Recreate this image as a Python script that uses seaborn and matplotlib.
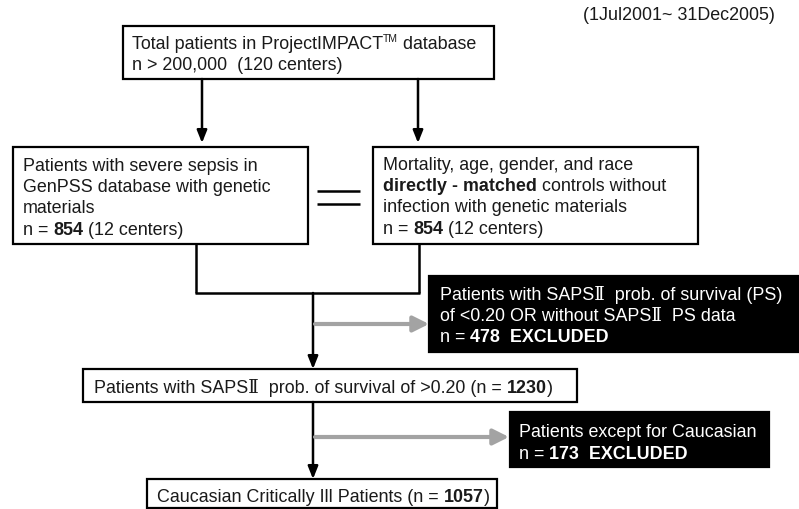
import matplotlib
matplotlib.use("Agg")
import matplotlib.pyplot as plt
import seaborn as sns
from matplotlib.patches import Rectangle
from matplotlib.font_manager import FontProperties

sns.set_theme(style="white")
plt.rcParams["font.family"] = ["Liberation Sans", "DejaVu Serif"]

# study counts
n_total = "200,000"
centers_total = 120
centers_genpss = 12
n_sepsis = 854
n_controls = 854
n_excluded_ps = 478
n_saps = 1230
n_excluded_race = 173
n_final = 1057
period = "(1Jul2001~ 31Dec2005)"

# text of each box, as runs of (text, bold)
top_lines = [
    [("Total patients in ProjectIMPACT", False), ("TM", "sup"), (" database", False)],
    [(f"n > {n_total}  ({centers_total} centers)", False)],
]
sepsis_lines = [
    [("Patients with severe sepsis in", False)],
    [("GenPSS database with genetic", False)],
    [("materials", False)],
    [("n = ", False), (str(n_sepsis), True), (f" ({centers_genpss} centers)", False)],
]
control_lines = [
    [("Mortality, age, gender, and race", False)],
    [("directly - matched", True), (" controls without", False)],
    [("infection with genetic materials", False)],
    [("n = ", False), (str(n_controls), True), (f" ({centers_genpss} centers)", False)],
]
excl_ps_lines = [
    [("Patients with SAPS\u2161  prob. of survival (PS)", False)],
    [("of <0.20 OR without SAPS\u2161  PS data", False)],
    [("n = ", False), (f"{n_excluded_ps}  EXCLUDED", True)],
]
saps_lines = [
    [("Patients with SAPS\u2161  prob. of survival of >0.20 (n = ", False), (str(n_saps), True), (")", False)],
]
excl_race_lines = [
    [("Patients except for Caucasian", False)],
    [("n = ", False), (f"{n_excluded_race}  EXCLUDED", True)],
]
final_lines = [
    [("Caucasian Critically Ill Patients (n = ", False), (str(n_final), True), (")", False)],
]

FS = 12.9

fig = plt.figure(figsize=(7.99, 5.10), dpi=100)
ax = fig.add_axes([0, 0, 1, 1])
ax.set_xlim(0, 799)
ax.set_ylim(510, 0)
ax.axis("off")
renderer = fig.canvas.get_renderer()


def width_px(s, weight, size):
    fp = FontProperties(family=plt.rcParams["font.family"], weight=weight, size=size)
    w1 = renderer.get_text_width_height_descent(s + "|", fp, ismath=False)[0]
    w0 = renderer.get_text_width_height_descent("|", fp, ismath=False)[0]
    return w1 - w0


def draw_line(x, yc, runs, color):
    base = yc + 6
    for s, kind in runs:
        size, weight, y = FS, "normal", base
        if kind == "sup":
            size, y = FS * 0.58, base - 6.5
        elif kind:
            weight = "bold"
        ax.text(x, y, s, fontsize=size, fontweight=weight, color=color,
                ha="left", va="baseline")
        x += width_px(s, weight, size)


def draw_box(x0, y0, x1, y1, lines, tx, ty, dark=False, dy=21.2):
    face = "black" if dark else "white"
    ax.add_patch(Rectangle((x0, y0), x1 - x0, y1 - y0, facecolor=face,
                           edgecolor="black", lw=1.6, zorder=1))
    color = "white" if dark else "#1a1a1a"
    for i, runs in enumerate(lines):
        draw_line(tx, ty + i * dy, runs, color)


def arrow(x0, y0, x1, y1, gray=False):
    if gray:
        props = dict(arrowstyle="-|>,head_length=0.72,head_width=0.36", color="#a3a3a3",
                     lw=3, mutation_scale=13, shrinkA=0, shrinkB=0)
    else:
        props = dict(arrowstyle="-|>,head_length=0.75,head_width=0.3", color="black",
                     lw=1.8, mutation_scale=10, shrinkA=0, shrinkB=0)
    ax.annotate("", xy=(x1, y1), xytext=(x0, y0), arrowprops=props)


def seg(xs, ys):
    ax.plot(xs, ys, color="black", lw=1.8, solid_capstyle="butt")


ax.text(775, 15, period, fontsize=FS, color="#1a1a1a", ha="right", va="center")

draw_box(123, 27, 494, 80, top_lines, 132, 43, dy=20.5)
draw_box(13, 148, 308, 245, sepsis_lines, 23, 165)
draw_box(373, 148, 698, 245, control_lines, 383, 164)
draw_box(429, 277, 805, 353, excl_ps_lines, 440, 294, dark=True)
draw_box(83, 370, 577, 403, saps_lines, 94, 387)
draw_box(510, 413, 769, 468, excl_race_lines, 519, 431, dark=True, dy=22)
draw_box(147, 480, 497, 509, final_lines, 157, 496)

# equal sign between the matched cohorts
seg([317, 360], [192, 192])
seg([317, 360], [205, 205])

arrow(202, 80, 202, 144)
arrow(418, 80, 418, 144)

# merge of the two cohorts
seg([196, 196], [245, 294])
seg([419, 419], [245, 294])
seg([195.1, 419.9], [294, 294])
arrow(313, 294, 313, 370)
arrow(315, 325, 429, 325, gray=True)

arrow(313, 403, 313, 480)
arrow(315, 438, 509, 438, gray=True)

fig.savefig("out.png", dpi=100)
